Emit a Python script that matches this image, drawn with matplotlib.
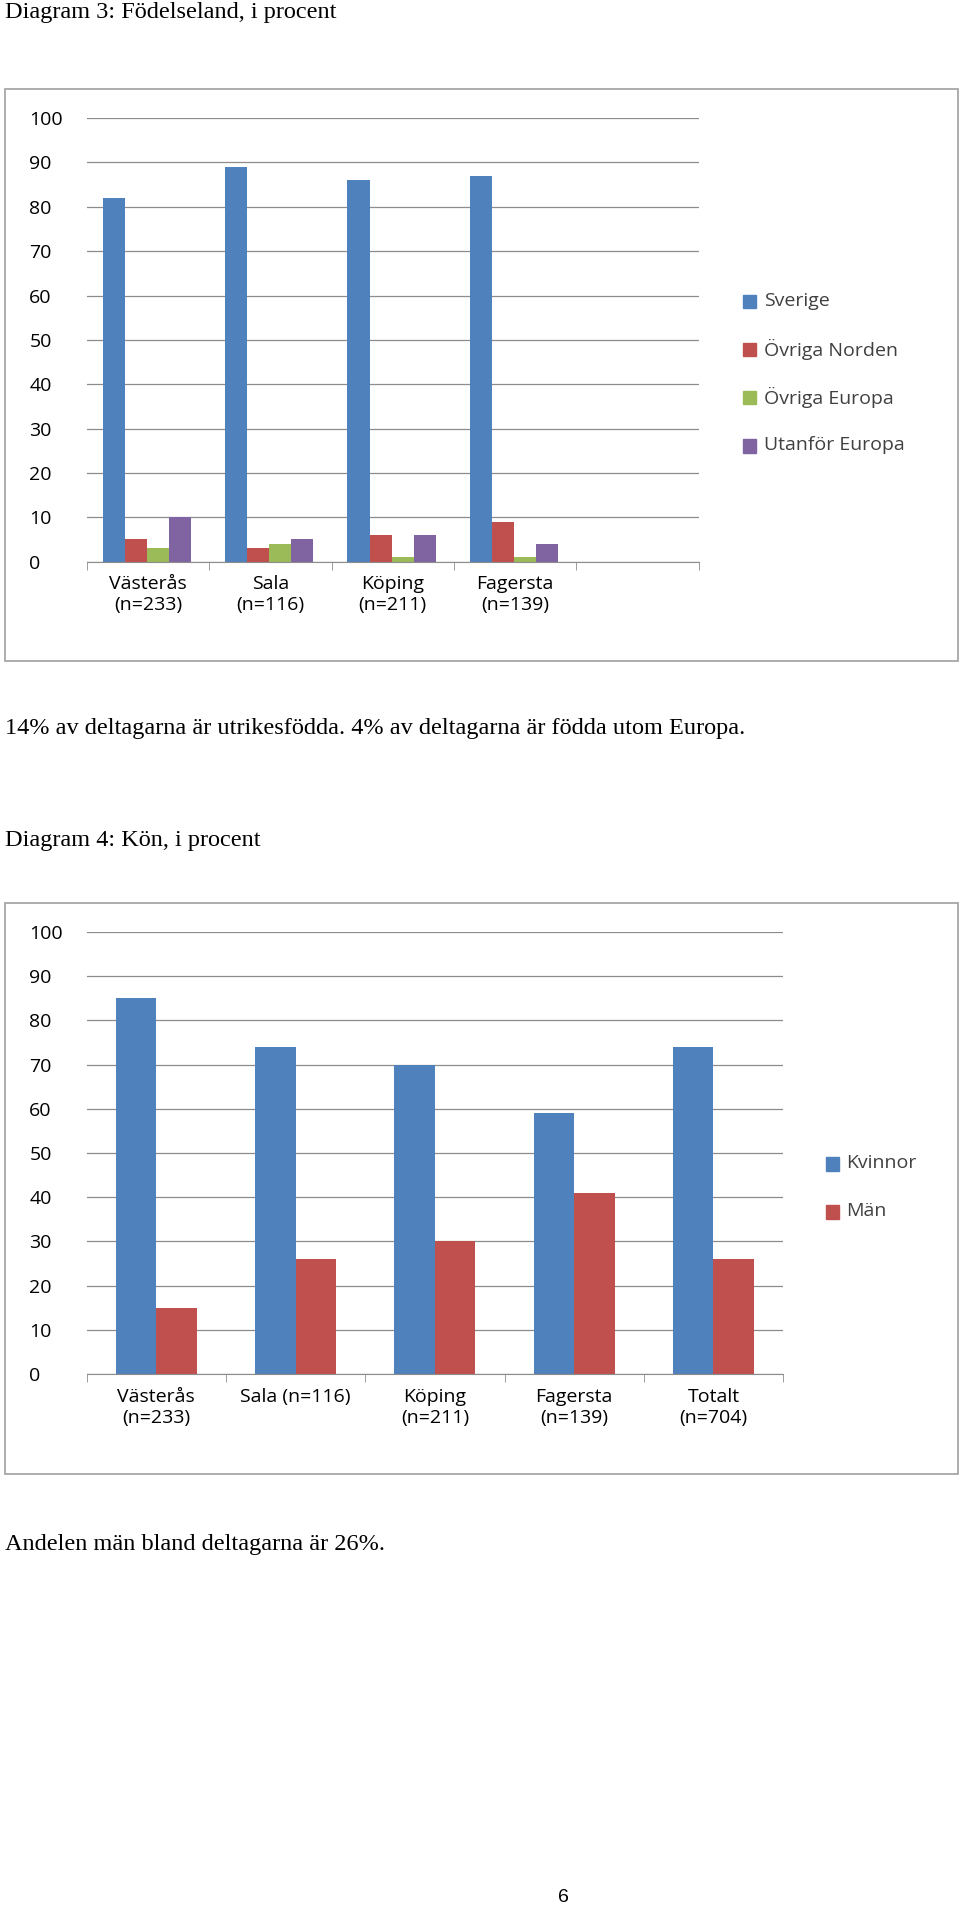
import matplotlib
matplotlib.use("Agg")
import matplotlib.pyplot as plt
import numpy as np

# Diagram 3
places1 = ["Västerås\n(n=233)", "Sala\n(n=116)", "Köping\n(n=211)", "Fagersta\n(n=139)"]
series1 = ["Sverige", "Övriga Norden", "Övriga Europa", "Utanför Europa"]
sverige = [82, 89, 86, 87]
ovr_norden = [5, 3, 6, 9]
ovr_europa = [3, 4, 1, 1]
utanfor = [10, 5, 6, 4]

# Diagram 4
places2 = ["Västerås\n(n=233)", "Sala (n=116)", "Köping\n(n=211)", "Fagersta\n(n=139)", "Totalt\n(n=704)"]
kvinnor = [85, 74, 70, 59, 74]
man = [15, 26, 30, 41, 26]

colors = ["#4f81bd", "#c0504d", "#9bbb59", "#8064a2"]
W, H = 787, 1568
SANS = "Open Sans"
SERIF = "Liberation Serif"

fig = plt.figure(figsize=(9.6, 19.1), dpi=100)


def ax_at(x0, y0, x1, y1):
    return fig.add_axes([x0 / W, 1 - y1 / H, (x1 - x0) / W, (y1 - y0) / H])


def frame(x0, y0, x1, y1):
    fig.patches.append(plt.Rectangle((x0 / W, 1 - y1 / H), (x1 - x0) / W, (y1 - y0) / H,
                                     transform=fig.transFigure, fill=False,
                                     edgecolor="#a0a0a0", linewidth=1.2))


def style(ax, nslots, labx):
    ax.set_ylim(0, 100)
    ax.set_yticks(range(0, 101, 10))
    ax.set_xlim(0, nslots)
    ax.yaxis.grid(True, color="#8c8c8c", linewidth=0.9)
    ax.set_axisbelow(True)
    for s in ["top", "right", "left"]:
        ax.spines[s].set_visible(False)
    ax.spines["bottom"].set_color("#8c8c8c")
    ax.tick_params(axis="y", length=0, labelsize=14)
    ax.tick_params(axis="x", which="major", length=0, labelsize=14, pad=10)
    ax.tick_params(axis="x", which="minor", length=6, color="#8c8c8c")
    ax.set_xticks(np.arange(nslots + 1), minor=True)
    for t in ax.get_yticklabels():
        t.set_fontfamily(SANS)
        t.set_horizontalalignment("left")
        t.set_x(labx)


def legend(entries, cols, x, y0, dy):
    for i, (lab, c) in enumerate(zip(entries, cols)):
        y = y0 + i * dy
        fig.patches.append(plt.Rectangle(((x) / W, 1 - (y + 6) / H), 11 / W, 11 / H,
                                         transform=fig.transFigure, color=c))
        fig.text((x + 17) / W, 1 - y / H, lab, fontsize=14, family=SANS, va="center", color="#404040")


# chart 1
fig.text(4 / W, 1 - 10 / H, "Diagram 3: Födelseland, i procent", fontsize=17.5, family=SERIF, va="center")
frame(4, 73, 785, 543)
ax1 = ax_at(71, 97, 573, 461)
style(ax1, 5, -43 / 502)
w1 = 0.18
x = np.arange(len(places1))
for i, vals in enumerate([sverige, ovr_norden, ovr_europa, utanfor]):
    ax1.bar(x + 0.13 + w1 * i + w1 / 2, vals, w1, color=colors[i])
ax1.set_xticks(x + 0.5)
ax1.set_xticklabels(places1, family=SANS)
legend(series1, colors, 609, 247, 39.5)

fig.text(4 / W, 1 - 598 / H, "14% av deltagarna är utrikesfödda. 4% av deltagarna är födda utom Europa.",
         fontsize=17.5, family=SERIF, va="center")

# chart 2
fig.text(4 / W, 1 - 690 / H, "Diagram 4: Kön, i procent", fontsize=17.5, family=SERIF, va="center")
frame(4, 741, 785, 1210)
ax2 = ax_at(71, 765, 642, 1128)
style(ax2, 5, -43 / 571)
w2 = 0.29
x = np.arange(len(places2))
ax2.bar(x + 0.21 + w2 / 2, kvinnor, w2, color=colors[0])
ax2.bar(x + 0.21 + w2 * 1.5, man, w2, color=colors[1])
ax2.set_xticks(x + 0.5)
ax2.set_xticklabels(places2, family=SANS)
legend(["Kvinnor", "Män"], colors[:2], 677, 955, 39.5)

fig.text(4 / W, 1 - 1268 / H, "Andelen män bland deltagarna är 26%.", fontsize=17.5, family=SERIF, va="center")
fig.text(462 / W, 1 - 1558 / H, "6", fontsize=14, family="Liberation Sans", va="center", ha="center")

fig.savefig("out.png", dpi=100)
